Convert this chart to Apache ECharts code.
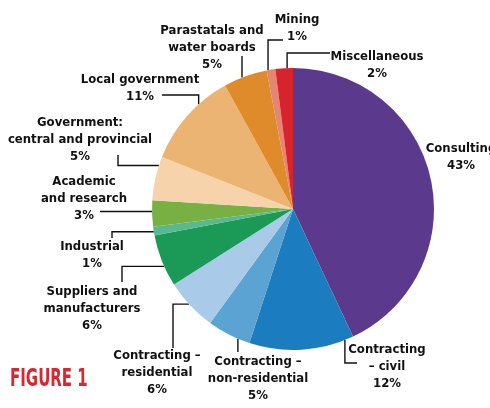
<!DOCTYPE html>
<html>
<head>
<meta charset="utf-8">
<script src="https://cdn.jsdelivr.net/npm/echarts@6/dist/echarts.min.js"></script>
<style>
html,body{margin:0;padding:0;background:#fff;}
#chart{width:490px;height:408px;}
</style>
</head>
<body>
<div id="chart"></div>
<script>
// Data
const categories = [
  'Consulting',
  'Contracting\n– civil',
  'Contracting –\nnon-residential',
  'Contracting –\nresidential',
  'Suppliers and\nmanufacturers',
  'Industrial',
  'Academic\nand research',
  'Government:\ncentral and provincial',
  'Local government',
  'Parastatals and\nwater boards',
  'Mining',
  'Miscellaneous'
];
const values = [43, 12, 5, 6, 6, 1, 3, 5, 11, 5, 1, 2];
const percentLabels = ['43%', '12%', '5%', '6%', '6%', '1%', '3%', '5%', '11%', '5%', '1%', '2%'];

// Styles / layout
const colors = ['#5b3a8e', '#1b7dbf', '#5aa3d2', '#a9cbe9', '#1a9a56', '#58b98f', '#79b043',
  '#f7d3ab', '#ebb473', '#e08b2b', '#e6866e', '#d7232b'];
const CX = 293, CY = 209, R = 141;
// label center [x, y], attach angle (deg clockwise from top), elbow path spec
const layouts = [
  {x: 461, y: 157, line: null},
  {x: 387, y: 367, a: 158.4, path: (s) => [[s[0], 363], [357, 363]]},
  {x: 258, y: 379, a: 203, path: (s) => [[s[0], 352], [s[0], 352]]},
  {x: 157, y: 373, a: 227.6, path: (s) => [[173, s[1]], [173, 348]]},
  {x: 92, y: 309, a: 246, path: (s) => [[122, s[1]], [122, 282]]},
  {x: 92, y: 255, a: 260.7, path: (s) => [[112, s[1]], [112, 238]]},
  {x: 84, y: 199, a: 269, path: (s) => [[100, s[1]], [100, s[1]]]},
  {x: 80, y: 140, a: 288, path: (s) => [[118, s[1]], [118, 155]]},
  {x: 140, y: 88, a: 318, path: (s) => [[s[0], 95], [162, 95]]},
  {x: 212, y: 48, a: 338.8, path: (s) => [[s[0], 56], [s[0], 56]]},
  {x: 297, y: 28, a: 349.8, path: (s) => [[s[0], 40], [283, 40]]},
  {x: 377, y: 65, a: 357.6, path: (s) => [[s[0], 53], [330, 53]]}
];

const chart = echarts.init(document.getElementById('chart'));
const seriesData = categories.map((c, i) => ({
  name: c,
  value: values[i],
  itemStyle: {color: colors[i]},
  labelLine: {show: i !== 0}
}));

chart.setOption({
  animation: false,
  graphic: [{
    type: 'text',
    x: 10,
    y: 367,
    scaleX: 0.6,
    originX: 0,
    originY: 0,
    style: {
      text: 'FIGURE 1',
      fill: '#d9262f',
      textVerticalAlign: 'top',
      font: 'bold 25px "DejaVu Sans", sans-serif'
    }
  }],
  series: [{
    type: 'pie',
    center: [CX, CY],
    radius: [0, R],
    startAngle: 90,
    clockwise: true,
    avoidLabelOverlap: false,
    data: seriesData,
    label: {
      show: true,
      position: 'outside',
      formatter: (p) => p.name + '\n' + percentLabels[p.dataIndex],
      fontFamily: '"Liberation Sans Narrow", "DejaVu Sans Condensed", sans-serif',
      fontWeight: 'bold',
      fontSize: 13,
      lineHeight: 17,
      color: '#111',
      align: 'center'
    },
    labelLine: {
      show: true,
      lineStyle: {color: '#111', width: 1.4}
    },
    labelLayout: function (params) {
      const i = params.dataIndex;
      const L = layouts[i];
      const out = {x: L.x, y: L.y, align: 'center', verticalAlign: 'middle'};
      if (L.path) {
        const rad = L.a * Math.PI / 180;
        const s = [CX + R * Math.sin(rad), CY - R * Math.cos(rad)];
        const p = L.path(s);
        out.labelLinePoints = [s, p[0], p[1]];
      }
      return out;
    }
  }]
});
</script>
</body>
</html>
